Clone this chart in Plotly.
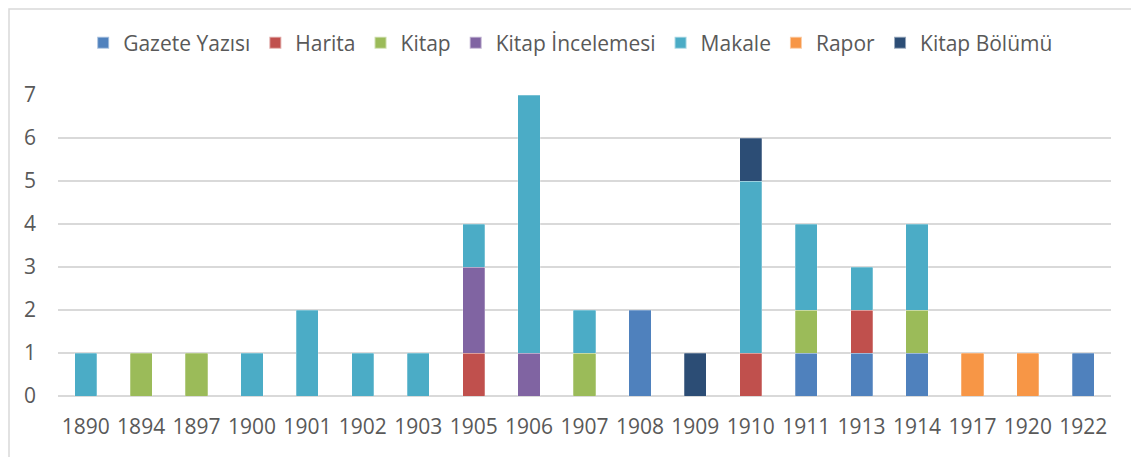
import plotly.graph_objects as go

years = ["1890", "1894", "1897", "1900", "1901", "1902", "1903", "1905", "1906", "1907",
         "1908", "1909", "1910", "1911", "1913", "1914", "1917", "1920", "1922"]

gazete_yazisi =    [0, 0, 0, 0, 0, 0, 0, 0, 0, 0, 2, 0, 0, 1, 1, 1, 0, 0, 1]
harita =           [0, 0, 0, 0, 0, 0, 0, 1, 0, 0, 0, 0, 1, 0, 1, 0, 0, 0, 0]
kitap =            [0, 1, 1, 0, 0, 0, 0, 0, 0, 1, 0, 0, 0, 1, 0, 1, 0, 0, 0]
kitap_incelemesi = [0, 0, 0, 0, 0, 0, 0, 2, 1, 0, 0, 0, 0, 0, 0, 0, 0, 0, 0]
makale =           [1, 0, 0, 1, 2, 1, 1, 1, 6, 1, 0, 0, 4, 2, 1, 2, 0, 0, 0]
rapor =            [0, 0, 0, 0, 0, 0, 0, 0, 0, 0, 0, 0, 0, 0, 0, 0, 1, 1, 0]
kitap_bolumu =     [0, 0, 0, 0, 0, 0, 0, 0, 0, 0, 0, 1, 1, 0, 0, 0, 0, 0, 0]

series = [
    ("Gazete Yazısı", gazete_yazisi, "#4F81BD"),
    ("Harita", harita, "#C0504D"),
    ("Kitap", kitap, "#9BBB59"),
    ("Kitap İncelemesi", kitap_incelemesi, "#8064A2"),
    ("Makale", makale, "#4BACC6"),
    ("Rapor", rapor, "#F79646"),
    ("Kitap Bölümü", kitap_bolumu, "#2C4D75"),
]

fig = go.Figure()
for name, vals, color in series:
    fig.add_trace(go.Bar(
        x=years, y=[v if v else None for v in vals], name=name,
        marker=dict(color=color, line=dict(color="rgba(255,255,255,0.5)", width=0.5)),
    ))

# page body has an 8px margin, so everything is offset by -8
L, T, PW, PH = 50, 87, 1053, 301
font_family = "Open Sans, Noto Sans, sans-serif"
fig.update_layout(
    barmode="stack",
    bargap=0.6,
    width=1139, height=457,
    margin=dict(l=L, r=1139 - L - PW, t=T, b=457 - T - PH, autoexpand=False),
    paper_bgcolor="white", plot_bgcolor="white",
    font=dict(family=font_family, size=21, color="#595959"),
    legend=dict(orientation="h", x=0.494, xanchor="center", xref="container",
                y=1 - 35 / 457, yanchor="middle", yref="container",
                bgcolor="rgba(0,0,0,0)",
                font=dict(size=21, color="#595959"), traceorder="normal",
                itemwidth=30, itemsizing="constant"),
    xaxis=dict(type="category", showgrid=False, showline=False, ticks="",
               ticklabelstandoff=16,
               tickfont=dict(size=21, color="#595959")),
    yaxis=dict(range=[0, 7], dtick=1, showgrid=True, gridcolor="#D9D9D9", gridwidth=1.5,
               zeroline=True, zerolinecolor="#D9D9D9", zerolinewidth=1.5,
               ticks="", ticklabelstandoff=21,
               tickfont=dict(size=21, color="#595959")),
    # chart-area border (only top and left edges are visible in the reference)
    shapes=[dict(type="rect", xref="paper", yref="paper",
                 x0=(1 - L) / PW, x1=(1200 - L) / PW,
                 y0=(T + PH - 520) / PH, y1=(T + PH - 1) / PH,
                 line=dict(color="#D9D9D9", width=1.5), layer="below")],
)

fig.write_html("out.html")
